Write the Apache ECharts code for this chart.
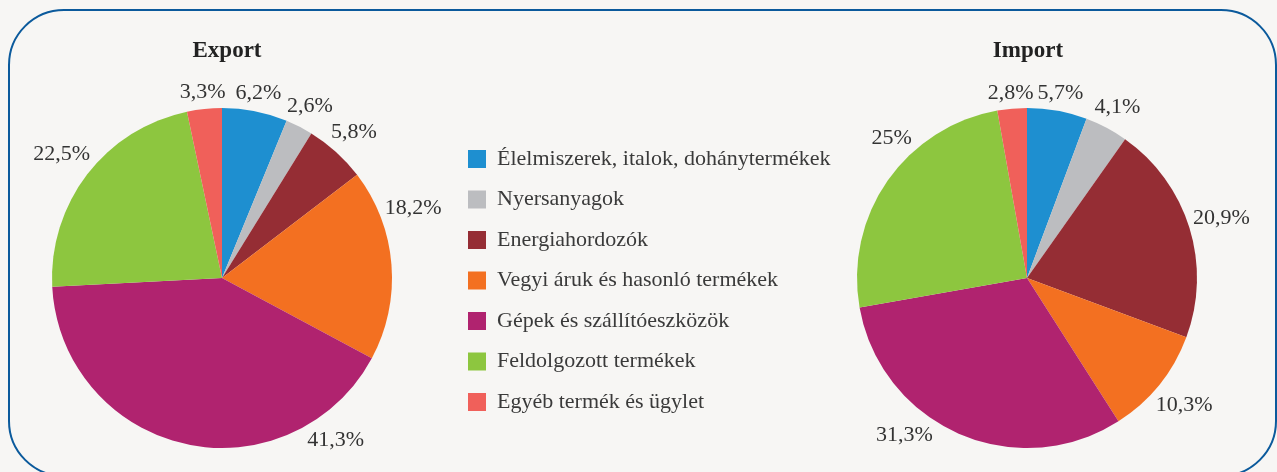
<!DOCTYPE html>
<html>
<head>
<meta charset="utf-8">
<script src="https://cdn.jsdelivr.net/npm/echarts@6/dist/echarts.min.js"></script>
<style>
  html, body { margin: 0; padding: 0; background: #f7f6f4; }
  #main { width: 1277px; height: 472px; }
</style>
</head>
<body>
<div id="main"></div>
<script>
// categories
const categories = [
  'Élelmiszerek, italok, dohánytermékek',
  'Nyersanyagok',
  'Energiahordozók',
  'Vegyi áruk és hasonló termékek',
  'Gépek és szállítóeszközök',
  'Feldolgozott termékek',
  'Egyéb termék és ügylet'
]
// shares in percent
const exportValues = [6.2, 2.6, 5.8, 18.2, 41.3, 22.5, 3.3]
const importValues = [5.7, 4.1, 20.9, 10.3, 31.3, 25, 2.8]

const colors = ['#1e8fd0', '#bcbdc0', '#952d34', '#f37021', '#b0236f', '#8dc63f', '#f0605a']
const font = '"Liberation Serif", "DejaVu Serif", serif'
const R = 170

// excel "best fit" moved a few labels off the mid angle
const labelAngleFix = [
  {3: 70, 4: 145},
  {4: 218, 5: 316}
]

function midAngles(values) {
  const total = values.reduce((a, b) => a + b, 0)
  let acc = 0
  return values.map(v => {
    const a = (acc + v / 2) / total * 360
    acc += v
    return a
  })
}

function makeLayout(values, center, fix) {
  const mids = midAngles(values)
  return function (params) {
    let deg = fix[params.dataIndex] !== undefined ? fix[params.dataIndex] : mids[params.dataIndex]
    let t = deg * Math.PI / 180
    let s = Math.sin(t), c = -Math.cos(t)
    let w = params.labelRect.width, h = params.labelRect.height
    let d = R + 3 + Math.abs(s) * w / 2 + Math.abs(c) * h / 2
    return {
      x: center[0] + s * d,
      y: center[1] + c * d,
      align: 'center',
      verticalAlign: 'middle'
    }
  }
}

function pieSeries(name, values, center, fix) {
  return {
    name: name,
    type: 'pie',
    center: center,
    radius: R,
    startAngle: 90,
    clockwise: true,
    animation: false,
    avoidLabelOverlap: false,
    itemStyle: { borderWidth: 0 },
    label: {
      show: true,
      position: 'outside',
      fontFamily: font,
      fontSize: 22,
      color: '#333',
      formatter: p => String(p.value).replace('.', ',') + '%'
    },
    labelLine: { show: false },
    labelLayout: makeLayout(values, center, fix),
    emphasis: { disabled: true },
    data: categories.map((n, i) => ({ name: n, value: values[i] }))
  }
}

let myChart = echarts.init(document.getElementById('main'))
let option = {
  backgroundColor: '#f7f6f4',
  color: colors,
  title: [
    {
      text: 'Export', left: 222, top: 35, textAlign: 'center',
      textStyle: { fontFamily: font, fontSize: 23, fontWeight: 'bold', color: '#222' }
    },
    {
      text: 'Import', left: 1023, top: 35, textAlign: 'center',
      textStyle: { fontFamily: font, fontSize: 23, fontWeight: 'bold', color: '#222' }
    }
  ],
  legend: {
    orient: 'vertical',
    left: 468,
    top: 148,
    padding: 0,
    itemWidth: 18,
    itemHeight: 18,
    itemGap: 18.5,
    icon: 'rect',
    selectedMode: false,
    data: categories,
    textStyle: { fontFamily: font, fontSize: 22, color: '#3a3a3a', padding: [0, 0, 0, 6] }
  },
  graphic: [{
    type: 'rect',
    shape: { x: 9, y: 10, width: 1267, height: 466, r: 55 },
    style: { fill: 'none', stroke: '#0b5a9c', lineWidth: 2 },
    silent: true
  }],
  series: [
    pieSeries('Export', exportValues, [222, 278], labelAngleFix[0]),
    pieSeries('Import', importValues, [1027, 278], labelAngleFix[1])
  ]
}
myChart.setOption(option)
window.onresize = myChart.resize
</script>
</body>
</html>
